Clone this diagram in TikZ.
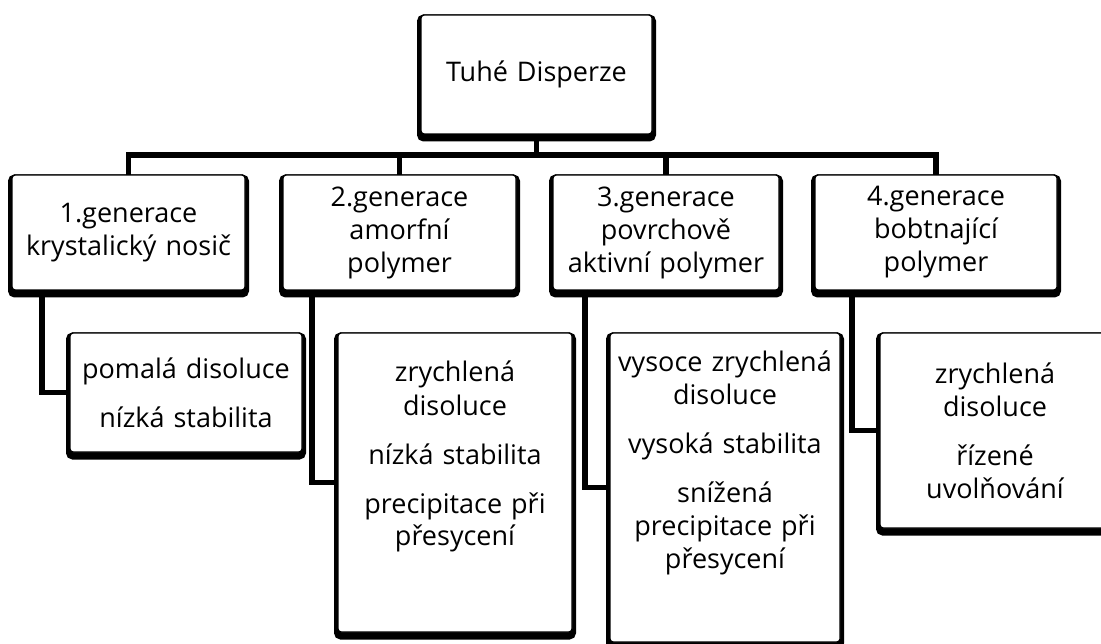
\documentclass[tikz,border=0pt]{standalone}
\usepackage{fontspec}
\setmainfont{Open Sans}
\usetikzlibrary{calc}

\tikzset{
  box/.style={draw, line width=1.4pt, fill=white, rounded corners=3pt,
    align=center, inner sep=0pt, outer sep=0pt, anchor=north west,
    font=\fontsize{27}{33}\selectfont,
    preaction={draw, line width=8pt, transform canvas={yshift=-3.5pt}}},
  link/.style={line width=5.5pt}
}

\begin{document}
\begin{tikzpicture}[x=1pt,y=-1pt]
  \useasboundingbox (0,0) rectangle (1101,644);

  \node[box, text width=231pt, minimum height=119pt] (root) at (421,15) {Tuhé Disperze};

  \node[box, text width=233pt, minimum height=115pt] (g1) at (12,175) {1.generace\\krystalický nosič};
  \node[box, text width=233pt, minimum height=115pt] (g2) at (283,175) {2.generace\\amorfní\\polymer};
  \node[box, text width=226pt, minimum height=115pt] (g3) at (553,175) {3.generace\\povrchově\\aktivní polymer};
  \node[box, text width=242pt, minimum height=115pt] (g4) at (815,175) {4.generace\\bobtnající\\polymer};

  \node[box, text width=232pt, minimum height=119pt] (p1) at (70,333) {pomalá disoluce\\[16pt]nízká stabilita};
  \node[box, text width=234pt, text height=49pt, text depth=250pt] (p2) at (338,333)
    {zrychlená\\disoluce\\[16pt]nízká stabilita\\[16pt]precipitace při\\přesycení};
  \node[box, text width=230pt, text height=39pt, text depth=270pt] (p3) at (610,333)
    {vysoce zrychlená\\disoluce\\[16pt]vysoká stabilita\\[16pt]snížená\\precipitace při\\přesycení};
  \node[box, text width=230pt, minimum height=195pt] (p4) at (880,333)
    {zrychlená\\disoluce\\[16pt]řízené\\uvolňování};

  % spojnice
  \coordinate (bus) at (0,155);
  \draw[link] (g1.north) |- (g4.north |- bus) -- (g4.north);
  \draw[link] (root.south) -- (root.south |- bus);
  \draw[link] (g2.north) -- (g2.north |- bus);
  \draw[link] (g3.north) -- (g3.north |- bus);

  \draw[link] ([xshift=30pt]g1.south west) |- (p1.west);
  \draw[link] ([xshift=29pt]g2.south west) |- (p2.west);
  \draw[link] ([xshift=32pt]g3.south west) |- (p3.west);
  \draw[link] ([xshift=37pt]g4.south west) |- (p4.west);

\end{tikzpicture}
\end{document}
